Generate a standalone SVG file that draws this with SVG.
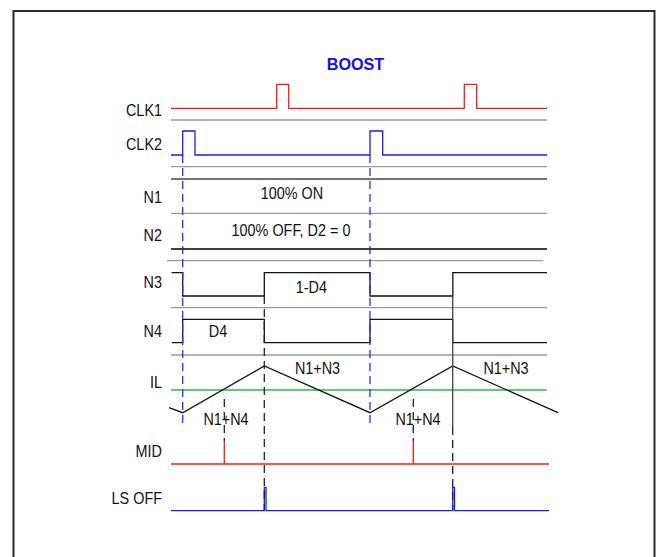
<svg xmlns="http://www.w3.org/2000/svg" width="657" height="557" viewBox="0 0 657 557">
<style>
text{font-family:"Liberation Sans",Arial,sans-serif;font-size:16px;fill:#111}
.lbl{text-anchor:end}
.mid{text-anchor:middle}
.grid{stroke:#9a9a9a;stroke-width:1.3;fill:none}
.wave{fill:none;stroke-width:1.3;stroke-linejoin:miter}
.red{stroke:#ff1a1a}
.blue{stroke:#1a1aff}
.blk{stroke:#111}
.bdash{stroke:#2a2aff;stroke-width:1.3;stroke-dasharray:8,5;fill:none}
.kdash{stroke:#222;stroke-width:1.3;stroke-dasharray:8,5;fill:none}
</style>
<rect x="13.5" y="11" width="641" height="560" fill="#fff" stroke="#2a2a2a" stroke-width="2"/>
<text transform="translate(355.5 70) scale(0.95 1)" class="mid" style="font-weight:bold;font-size:17px;fill:#1010f0">BOOST</text>

<g id="grid">
<path class="grid" d="M171,120H547M171,166.7H547M171,213.3H547M167,260.7H543M171,307.7H547M171,355H547"/>
<path d="M171,179H547" stroke="#444" stroke-width="1.5" fill="none"/>
<path d="M171,249H547" stroke="#000" stroke-width="1.3" fill="none"/>
</g>

<g id="labels">
<text class="lbl" transform="translate(162 116) scale(0.9 1)">CLK1</text>
<text class="lbl" transform="translate(162 150) scale(0.9 1)">CLK2</text>
<text class="lbl" transform="translate(162 203.3) scale(0.9 1)">N1</text>
<text class="lbl" transform="translate(162 240.7) scale(0.9 1)">N2</text>
<text class="lbl" transform="translate(162 288.3) scale(0.9 1)">N3</text>
<text class="lbl" transform="translate(162 336.5) scale(0.9 1)">N4</text>
<text class="lbl" transform="translate(162 388.3) scale(0.9 1)">IL</text>
<text class="lbl" transform="translate(162 457.3) scale(0.9 1)">MID</text>
<text class="lbl" transform="translate(162 504) scale(0.9 1)">LS OFF</text>
</g>

<g id="clk1"><path class="wave red" d="M171,108.3H276.7V84.3H288.7V108.3H464.3V84.3H476.7V108.3H547"/></g>
<g id="clk2"><path class="wave blue" d="M171,155H182.7V131H195V155H370V131H382.7V155H547"/></g>
<g id="n1"><text class="mid" transform="translate(292 199.3) scale(0.9 1)">100% ON</text></g>
<g id="n2"><text class="mid" transform="translate(291 236) scale(0.9 1)">100% OFF, D2 = 0</text></g>
<g id="n3"><path class="wave blk" d="M171.7,272.7H182.7V296H264.3V272.7H370V296H452.7V272.7H547"/><text class="mid" transform="translate(311.3 293.3) scale(0.9 1)">1-D4</text></g>
<g id="n4"><path class="wave blk" d="M171.7,342.7H182.7V319.3H264.3V342.7H370V319.3H452.7V342.7H547"/><text class="mid" transform="translate(218 336.5) scale(0.9 1)">D4</text></g>
<g id="il">
<path d="M171,390H546.7" stroke="#2db84a" stroke-width="1.5" fill="none"/>
<path class="wave blk" d="M169,407.7L182.7,412.7L264.3,366L370,412.7L452.7,366L558,412.7"/>
<text class="mid" transform="translate(317.5 374) scale(0.9 1)">N1+N3</text>
<text class="mid" transform="translate(506 374) scale(0.9 1)">N1+N3</text>
<text class="mid" transform="translate(226 425) scale(0.9 1)">N1+N4</text>
<text class="mid" transform="translate(418 425) scale(0.9 1)">N1+N4</text>
</g>
<g id="mid"><path class="wave red" d="M171,464H224.3V441.7V464H413.3V441.7V464H549"/></g>
<g id="lsoff"><path class="wave blue" d="M171,510.7H264.3V487.3H266V510.7H452.7V487.3H454.5V510.7H549"/></g>

<g id="connectors">
<path class="bdash" d="M182.7,155V423M370,155V423"/>
<path class="kdash" d="M264.3,296V510M452.7,427V510M224.3,399V441.7M413.3,399V441.7"/>
<path d="M452.7,272.7V427" stroke="#444" stroke-width="1.3" fill="none"/>
</g>
</svg>
